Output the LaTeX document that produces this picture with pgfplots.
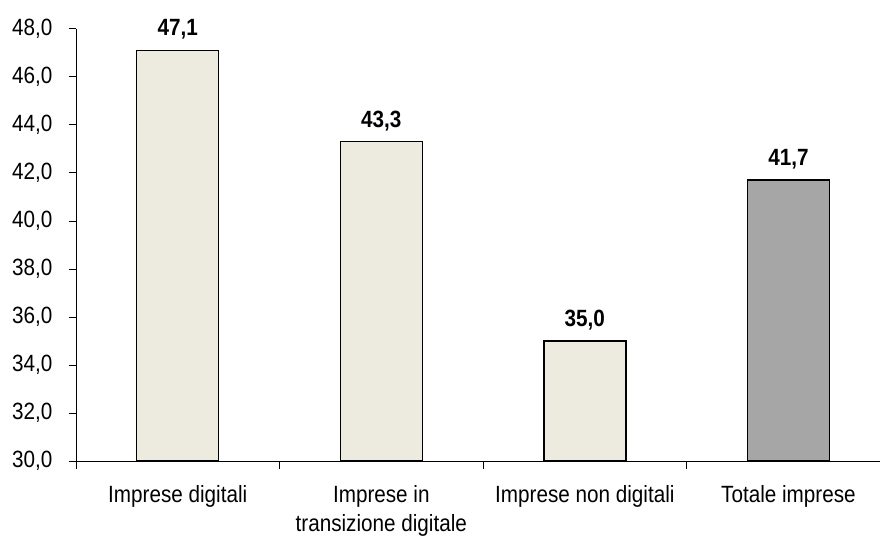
\documentclass[border=0pt]{standalone}
\usepackage{fontspec}
\setmainfont{Liberation Sans}[FakeStretch=0.88]
\usepackage{pgfplots}
\pgfplotsset{compat=1.18}
\definecolor{beige}{RGB}{237,234,224}
\definecolor{grayb}{RGB}{166,166,166}
\begin{document}
\begin{tikzpicture}
\begin{axis}[
  at={(76pt,75pt)}, anchor=south west,
  scale only axis, width=804pt, height=432pt,
  xmin=-0.5, xmax=3.45, ymin=30, ymax=48,
  axis x line*=bottom, axis y line*=left,
  axis line style={-, line width=1pt},
  ytick={30,32,...,48},
  xtick={0,1,2,3},
  xticklabels={Imprese digitali, {Imprese in\\transizione digitale}, Imprese non digitali, Totale imprese},
  xticklabel style={align=center, yshift=-14pt},
  minor xtick={-0.5,0.5,1.5,2.5},
  major x tick style={draw=none},
  tick align=outside,
  major tick length=7pt, minor tick length=8pt,
  tick style={black, line width=1pt},
  yticklabel style={xshift=-13pt},
  /pgf/number format/.cd, use comma, fixed, fixed zerofill, precision=1, assume math mode=true,
  /pgfplots/.cd,
  tick label style={font=\fontsize{23.5}{29}\selectfont},
  ybar, bar width=82pt, bar shift=0pt,
  nodes near coords,
  nodes near coords style={font=\fontsize{23.5}{29}\selectfont\bfseries, yshift=7pt, /pgf/number format/.cd, use comma, fixed, fixed zerofill, precision=1, assume math mode=true},
]
\addplot[fill=beige, draw=black, line width=1.4pt] coordinates {(0,47.1) (1,43.3) (2,35.0)};
\addplot[fill=grayb, draw=black, line width=1.4pt] coordinates {(3,41.7)};
\end{axis}
\pgfresetboundingbox
\path (0,0) rectangle (880pt,536pt);
\end{tikzpicture}
\end{document}
